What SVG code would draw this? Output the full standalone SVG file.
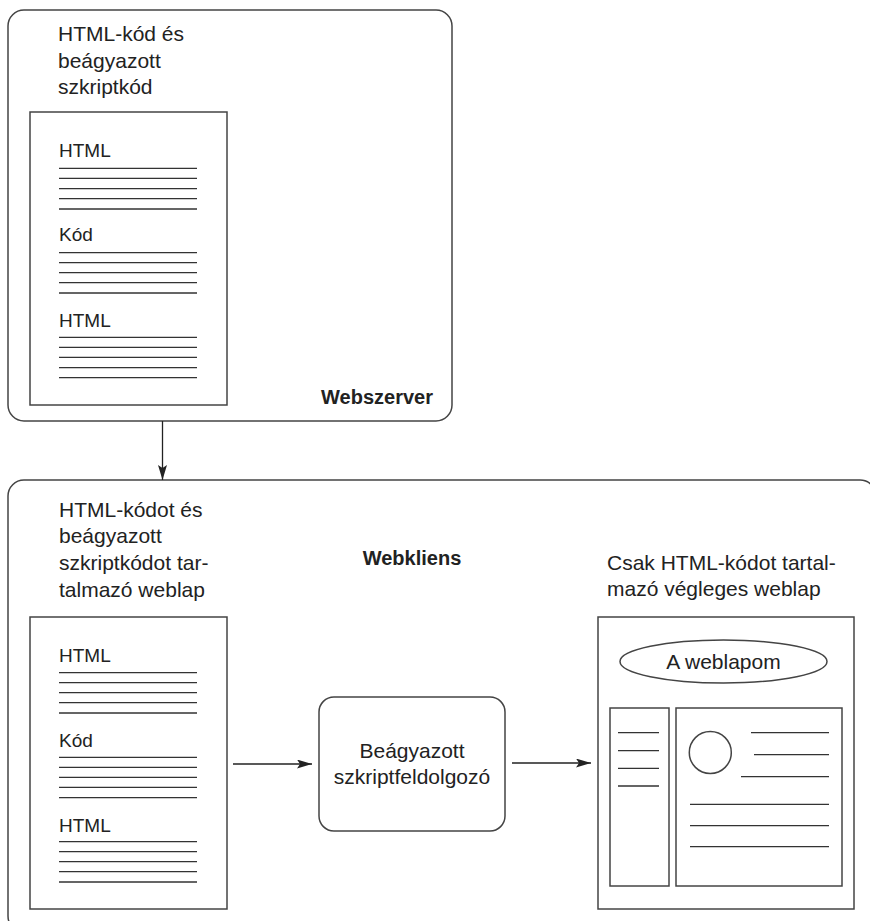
<svg xmlns="http://www.w3.org/2000/svg" width="870" height="921" viewBox="0 0 870 921">
<defs>
<marker id="ah" markerUnits="userSpaceOnUse" markerWidth="15" markerHeight="9" refX="15" refY="4.5" orient="auto">
<path d="M0,0 L15,4.5 L0,9 L3,4.5 Z" fill="#222"/>
</marker>
</defs>
<style>
text{font-family:"Liberation Sans",Arial,sans-serif;fill:#222}
.t{font-size:21px}
.d{font-size:19px}
.b{font-size:20px;font-weight:bold}
.box{fill:none;stroke:#444;stroke-width:1.5}
.ln{stroke:#333;stroke-width:1.3}
.cn{stroke:#222;stroke-width:1.3;fill:none;marker-end:url(#ah)}
</style>
<rect width="870" height="921" fill="#fff"/>

<g id="webszerver">
<rect class="box" x="8" y="10" width="444" height="411" rx="16"/>
<text class="t" x="58" y="41">HTML-kód és</text>
<text class="t" x="58" y="68">beágyazott</text>
<text class="t" x="58" y="94">szkriptkód</text>
<text class="b" x="433" y="404" text-anchor="end">Webszerver</text>
</g>

<g id="server-doc">
<rect class="box" x="30" y="112" width="197" height="293"/>
<text class="d" x="59" y="157">HTML</text>
<path class="ln" d="M59,168.3H197M59,178.3H197M59,188.6H197M59,198.6H197M59,209H197"/>
<text class="d" x="59" y="241">Kód</text>
<path class="ln" d="M59,252.7H197M59,262.7H197M59,272.7H197M59,282.7H197M59,293H197"/>
<text class="d" x="59" y="327">HTML</text>
<path class="ln" d="M59,337.3H197M59,347.3H197M59,357.3H197M59,367.6H197M59,377.7H197"/>
</g>

<g id="webkliens">
<rect class="box" x="8" y="480" width="868" height="452" rx="16"/>
<text class="t" x="59" y="517">HTML-kódot és</text>
<text class="t" x="59" y="543">beágyazott</text>
<text class="t" x="59" y="570">szkriptkódot tar-</text>
<text class="t" x="59" y="597">talmazó weblap</text>
<text class="b" x="412" y="565" text-anchor="middle">Webkliens</text>
</g>

<g id="client-doc">
<rect class="box" x="30" y="617" width="197" height="292"/>
<text class="d" x="59" y="662">HTML</text>
<path class="ln" d="M59,672.7H197M59,682.7H197M59,692.7H197M59,702.7H197M59,713H197"/>
<text class="d" x="59" y="747">Kód</text>
<path class="ln" d="M59,757.3H197M59,767.3H197M59,777.3H197M59,787.3H197M59,797.7H197"/>
<text class="d" x="59" y="832">HTML</text>
<path class="ln" d="M59,841.7H197M59,851.7H197M59,861.7H197M59,871.7H197M59,882H197"/>
</g>

<g id="processor">
<rect class="box" x="319" y="697" width="186" height="134" rx="15"/>
<text class="t" x="412" y="758" text-anchor="middle">Beágyazott</text>
<text class="t" x="412" y="784" text-anchor="middle">szkriptfeldolgozó</text>
</g>

<g id="final-page">
<text class="t" x="607" y="570">Csak HTML-kódot tartal-</text>
<text class="t" x="607" y="596">mazó végleges weblap</text>
<rect class="box" x="598" y="617" width="256" height="292"/>
<ellipse class="box" cx="723.5" cy="661.5" rx="103.5" ry="21.5"/>
<text class="t" x="723.5" y="669" text-anchor="middle">A weblapom</text>
<rect class="box" x="610" y="708" width="59" height="178"/>
<path class="ln" d="M618,732.7H659M618,750.7H659M618,768.3H659M618,786H659"/>
<rect class="box" x="676" y="708" width="166" height="178"/>
<circle class="box" cx="710.3" cy="752.5" r="21"/>
<path class="ln" d="M751,732.7H829M754,754.7H829M741,776.7H829M690,804.3H829M690,825.7H829M690,846.7H829"/>
</g>

<g id="connectors">
<line class="cn" x1="162.5" y1="421" x2="162.5" y2="480"/>
<line class="cn" x1="233" y1="764" x2="312" y2="764"/>
<line class="cn" x1="512" y1="763" x2="591" y2="763"/>
</g>
</svg>
